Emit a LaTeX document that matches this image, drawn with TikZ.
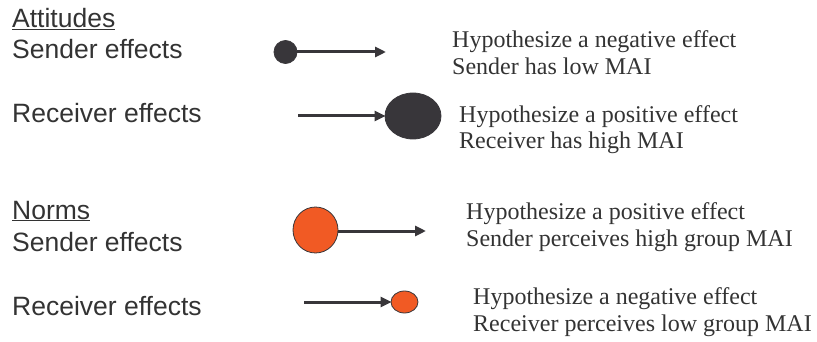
\documentclass[tikz,border=0pt]{standalone}
\usepackage{fontspec}
\setmainfont{Liberation Serif}
\setsansfont{Liberation Sans}
\usetikzlibrary{arrows.meta}
\usetikzlibrary{positioning}
\usetikzlibrary{shapes.geometric}
\definecolor{dotgray}{HTML}{38363A}
\definecolor{dotorange}{HTML}{F15A24}
\definecolor{txtgray}{HTML}{333333}
\tikzset{
  lbl/.style={anchor=base west, inner sep=0, text=txtgray, font=\sffamily\fontsize{26.5}{30}\selectfont},
  hyp/.style={anchor=base west, inner sep=0, text=txtgray, align=left, font=\fontsize{24}{26.5}\selectfont},
  dot/.style={ellipse, inner sep=0, draw=dotgray, line width=.8pt},
  eff/.style={dotgray, line width=3pt, -{Triangle[length=11pt,width=10pt]}, shorten >=-1pt}
}
\begin{document}
\begin{tikzpicture}[x=1pt, y=-1pt]
\useasboundingbox (0,0) rectangle (817,342);
% left labels
\node[lbl] (att) at (12,28) {\underline{Attitudes}};
\node[lbl] (ase) at (12,59) {Sender effects};
\node[lbl] (are) at (12,123) {Receiver effects};
\node[lbl] (nor) at (12,219) {\underline{Norms}};
\node[lbl] (nse) at (12,251) {Sender effects};
\node[lbl] (nre) at (12,315) {Receiver effects};
% attitudes
\node[dot, fill=dotgray, minimum width=23, minimum height=23] (asd) at (285.5,52) {};
\coordinate (ast) at (385,52);
\draw[eff] (asd) -- (ast);
\node[dot, fill=dotgray, minimum width=56, minimum height=46] (ard) at (413,116) {};
\coordinate (ars) at (298,116);
\draw[eff] (ars) -- (ard);
% norms
\node[dot, fill=dotorange, minimum width=45, minimum height=46] (nsd) at (315.5,230) {};
\coordinate (nst) at (425,231);
\draw[eff] (nsd.east |- nst) -- (nst);
\node[dot, fill=dotorange, minimum width=27, minimum height=22] (nrd) at (404.5,302) {};
\coordinate (nrs) at (304,302);
\draw[eff] (nrs) -- (nrd);
% hypotheses (placed by the baseline of their second line)
\node[hyp] (ash) at (452,74.5) {Hypothesize a negative effect\\Sender has low MAI};
\node[hyp] (arh) at (459,149) {Hypothesize a positive effect\\Receiver has high MAI};
\node[hyp] (nsh) at (466,246) {Hypothesize a positive effect\\Sender perceives high group MAI};
\node[hyp] (nrh) at (473,331) {Hypothesize a negative effect\\Receiver perceives low group MAI};
\end{tikzpicture}
\end{document}
